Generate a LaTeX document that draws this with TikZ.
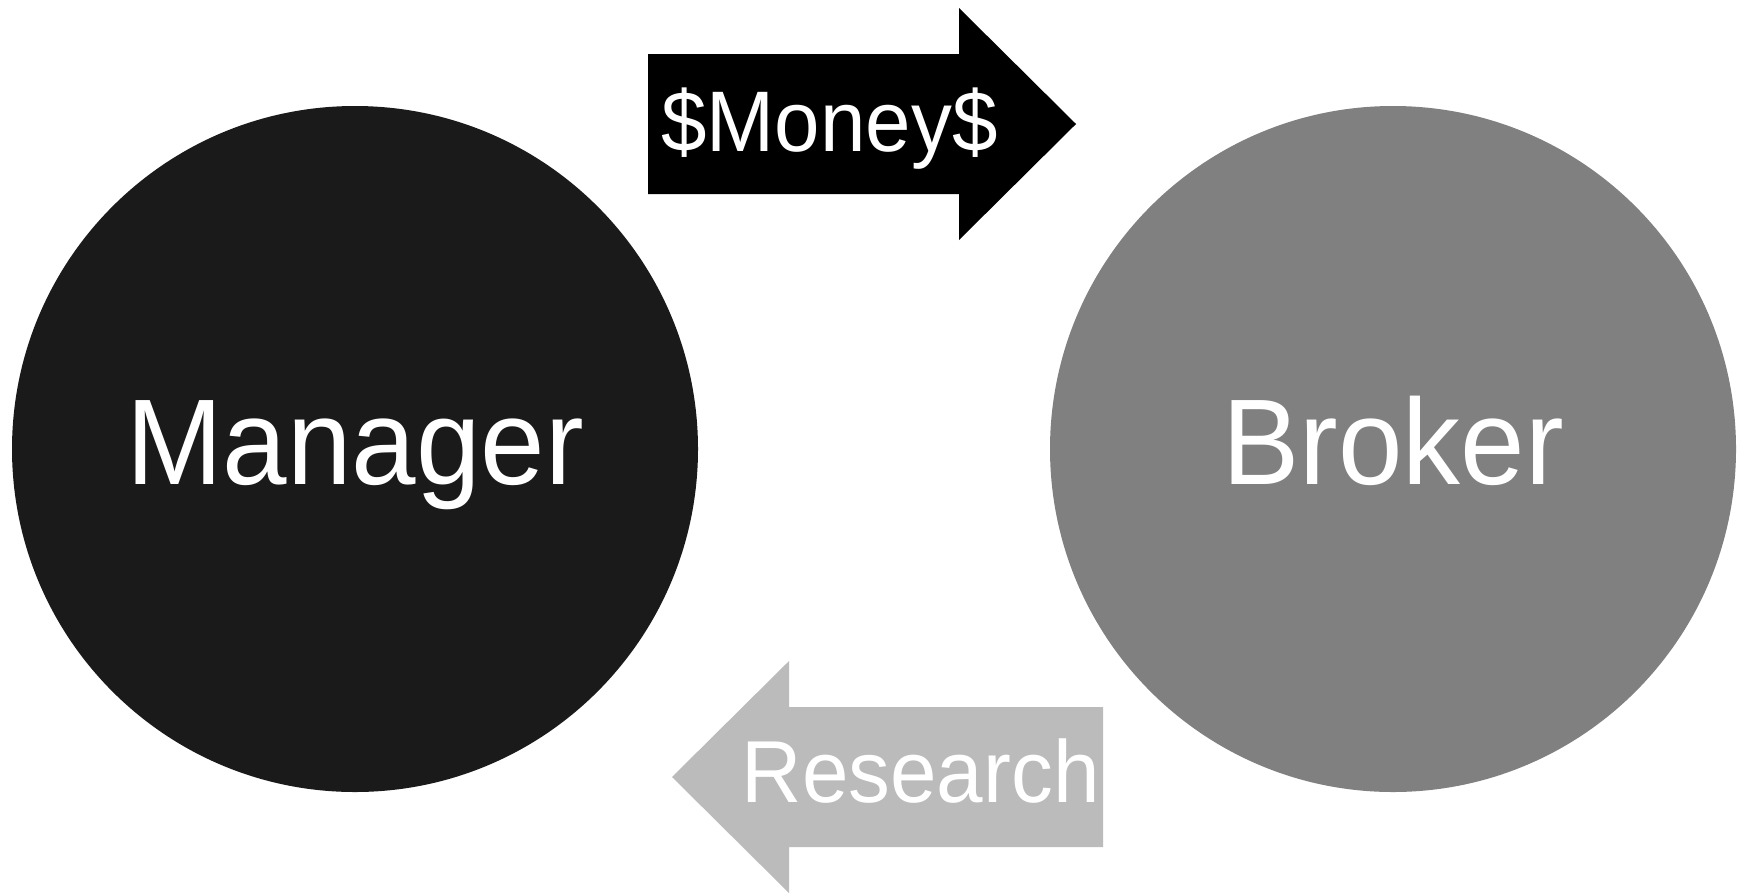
\documentclass[tikz,border=0pt]{standalone}
\usepackage{fontspec}
\setmainfont[FakeStretch=0.95]{Liberation Sans}
\usepackage{tikz}

\definecolor{mgrgray}{HTML}{1A1A1A}
\definecolor{brkgray}{HTML}{808080}
\definecolor{resgray}{HTML}{BBBBBB}

\tikzset{
	party/.style={circle, minimum size=343pt, inner sep=0pt, text=white,
		font=\fontsize{61}{68}\selectfont, text height=35pt, text depth=0pt},
	flowtext/.style={text=white, inner sep=0pt, font=\fontsize{44}{52}\selectfont}
}

\begin{document}
\begin{tikzpicture}[x=0.5pt,y=-0.5pt]
		\useasboundingbox (0,0) rectangle (1738,895);

		\node[party, fill=mgrgray] (manager) at ( 355, 449) {Manager};
		\node[party, fill=brkgray] (broker)  at (1393, 449) {Broker};

		% money arrow, manager to broker
		\fill[black] (648,54) -- (959,54) -- (959,8) -- (1076,124) -- (959,240) -- (959,194) -- (648,194) -- cycle;
		\node[flowtext, font=\fontsize{43}{50}\selectfont, anchor=base west] (money) at ( 661, 151) {\$Money\$};

		% research arrow, broker to manager
		\fill[resgray] (1103,707) -- (789,707) -- (789,661) -- (672,777) -- (789,893) -- (789,847) -- (1103,847) -- cycle;
		\node[flowtext, anchor=base east] (research) at (1100, 802) {Research};

	\end{tikzpicture}
\end{document}
